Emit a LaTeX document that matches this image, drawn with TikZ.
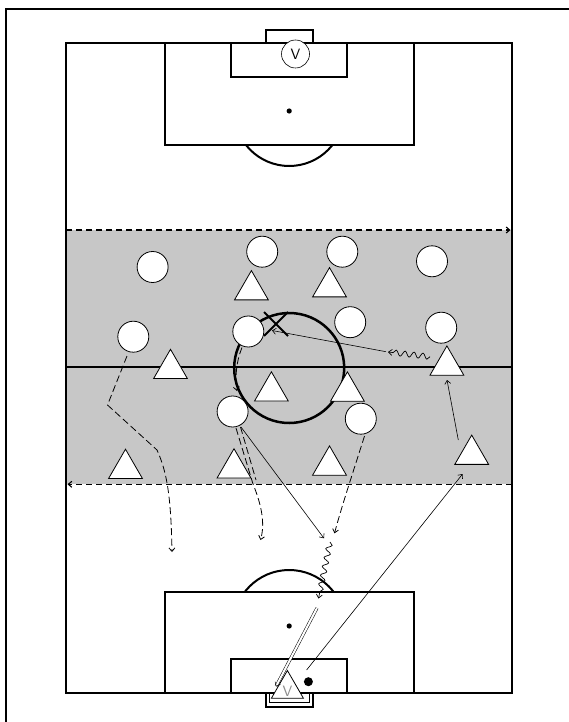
\documentclass[tikz,border=0pt]{standalone}
\usetikzlibrary{arrows.meta,shapes.geometric,decorations.pathmorphing}
\begin{document}
\begin{tikzpicture}[x=1pt,y=-1pt,
  pitch/.style={line width=2pt,black},
  player/.style={circle,draw,fill=white,minimum size=31pt,inner sep=0pt,line width=0.8pt},
  opp/.style={regular polygon,regular polygon sides=3,draw,fill=white,minimum size=39pt,inner sep=0pt,line width=0.8pt},
  tip/.style={-{Straight Barb[length=3.5pt,width=6pt]}},
  pass/.style={line width=0.6pt,tip},
  run/.style={line width=0.8pt,dash pattern=on 7pt off 3.5pt},
  zone/.style={line width=1.1pt,dash pattern=on 6pt off 4pt,tip},
  dribble/.style={line width=0.7pt,tip,decorate,decoration={snake,amplitude=2.8pt,segment length=9pt,post length=4pt}},
  shot/.style={double,double distance=2pt,line width=0.5pt,tip}]
\useasboundingbox (0,0) rectangle (569,722);
% outer frame (top and left visible)
\draw[line width=2pt] (5.5,722) -- (5.5,9) -- (569,9);
% grey zone
\fill[black!22] (66.4,230) rectangle (511.6,484.3);
% pitch
\draw[pitch] (66.4,42.7) rectangle (511.6,693.3);
\draw[pitch] (66.4,366.7) -- (511.6,366.7);
\draw[line width=2.5pt] (289.2,368) circle (55pt);
% top end
\draw[pitch] (165,42.7) rectangle (413.6,145);
\draw[pitch] (231,42.7) rectangle (346.5,76.7);
\draw[pitch] (265.6,30.5) rectangle (312.8,42.7);
\fill (289.2,111) circle (2.6pt);
\begin{scope}
  \clip (150,146) rectangle (430,200);
  \draw[pitch] (289.2,111) circle (55pt);
\end{scope}
% bottom end
\draw[pitch] (165,591.7) rectangle (413.6,693.3);
\draw[pitch] (231,659) rectangle (346.5,693.3);
\draw[pitch] (265.6,693.3) rectangle (312.8,706.5);
\draw[line width=1pt] (269.5,693.3) -- (269.5,702) -- (309,702) -- (309,693.3);
\fill (289.2,626) circle (2.6pt);
\begin{scope}
  \clip (150,590.7) rectangle (430,540);
  \draw[pitch] (289.2,626) circle (56pt);
\end{scope}
\fill (308.4,681.7) coordinate (ball) circle (4.5pt);
% zone boundaries
\coordinate (zt1) at (66.4,230);
\coordinate (zt2) at (510.5,230);
\coordinate (zb1) at (511.6,484.3);
\coordinate (zb2) at (67.5,484.3);
\draw[zone] (zt1) -- (zt2);
\draw[zone] (zb1) -- (zb2);
% keepers
\node[circle,draw,fill=white,minimum size=28pt,inner sep=0pt,line width=0.6pt,font=\sffamily\fontsize{15}{15}\selectfont] (vtop) at (295.5,54) {V};
% players (circles)
\node[player] (c1) at (152.6,267) {};
\node[player] (c2) at (262.2,251.7) {};
\node[player] (c3) at (342.3,251.7) {};
\node[player] (c4) at (432,261.3) {};
\node[player] (c5) at (133.3,336.7) {};
\node[player] (c6) at (248.3,331.5) {};
\node[player] (c7) at (350.2,322.2) {};
\node[player] (c8) at (441.2,327.7) {};
\node[player] (c9) at (232.6,411.5) {};
\node[player] (c10) at (360.8,418.7) {};
% opponents (triangles)
\node[opp] (t1) at (251.4,290.1) {};
\node[opp] (t2) at (329.5,287.1) {};
\node[opp] (t3) at (170.5,368.8) {};
\node[opp] (t4) at (271.4,391.3) {};
\node[opp] (t5) at (347.4,391.4) {};
\node[opp] (t6) at (446.9,365.4) {};
\node[opp] (t7) at (471.7,454.6) {};
\node[opp] (t8) at (125.5,468.7) {};
\node[opp] (t9) at (234,468.2) {};
\node[opp] (t10) at (329.5,465.4) {};
\node[opp,minimum size=37pt,text=black!45,font=\sffamily\fontsize{15}{15}\selectfont,text depth=0pt] (gk) at (287.4,689) {\raisebox{-5pt}{V}};
% X mark
\coordinate (xm) at (276,324);
\draw[line width=1.8pt] ([shift={(-12,-12)}]xm) -- ([shift={(12,12)}]xm)
  ([shift={(12,-12)}]xm) -- ([shift={(-12,12)}]xm);
% dribble from t6 and pass to X
\coordinate (d1) at (430,356.7);
\coordinate (d2) at (388,352);
\coordinate (xt) at (272,330.5);
\draw[dribble] (d1) -- (d2);
\draw[pass] (386,351.7) -- (xt);
% dashed run from c6 down
\coordinate (r6a) at (242,347.5);
\coordinate (r6b) at (237,391);
\draw[run,tip] (r6a) .. controls (236,362) and (235,378) .. (r6b);
% left run from c5
\coordinate (r5a) at (127,356);
\coordinate (r5e) at (172,552);
\draw[run,tip] (r5a) -- (107.5,405) -- (157,450) .. controls (166,470) and (171,492) .. (r5e);
% run from c9
\coordinate (r9a) at (236,428);
\coordinate (r9e) at (260.5,540);
\draw[run] (240.5,427) -- (256,480);
\draw[run,tip] (r9a) -- (253,484) .. controls (262,506) and (265,524) .. (r9e);
% pass from c9
\coordinate (p9a) at (241,427);
\coordinate (recv) at (324,538.3);
\draw[pass] (p9a) -- (recv);
% run from c10
\coordinate (r10a) at (364.5,436);
\coordinate (r10e) at (334.5,533.3);
\draw[run,tip] (r10a) .. controls (357,460) and (342,505) .. (r10e);
% dribble toward box
\coordinate (w1) at (330,542);
\coordinate (w2) at (318.5,598.5);
\draw[dribble] (w1) -- (w2);
% shot
\coordinate (s1) at (317,608);
\coordinate (s2) at (276,686.5);
\draw[shot] (s1) -- (s2);
% keeper distribution
\coordinate (g1) at (306.6,670);
\coordinate (g2) at (462.6,474);
\draw[pass] (g1) -- (g2);
% t7 to t6
\coordinate (m1) at (458.3,440);
\coordinate (m2) at (447,380);
\draw[pass] (m1) -- (m2);
\end{tikzpicture}
\end{document}
